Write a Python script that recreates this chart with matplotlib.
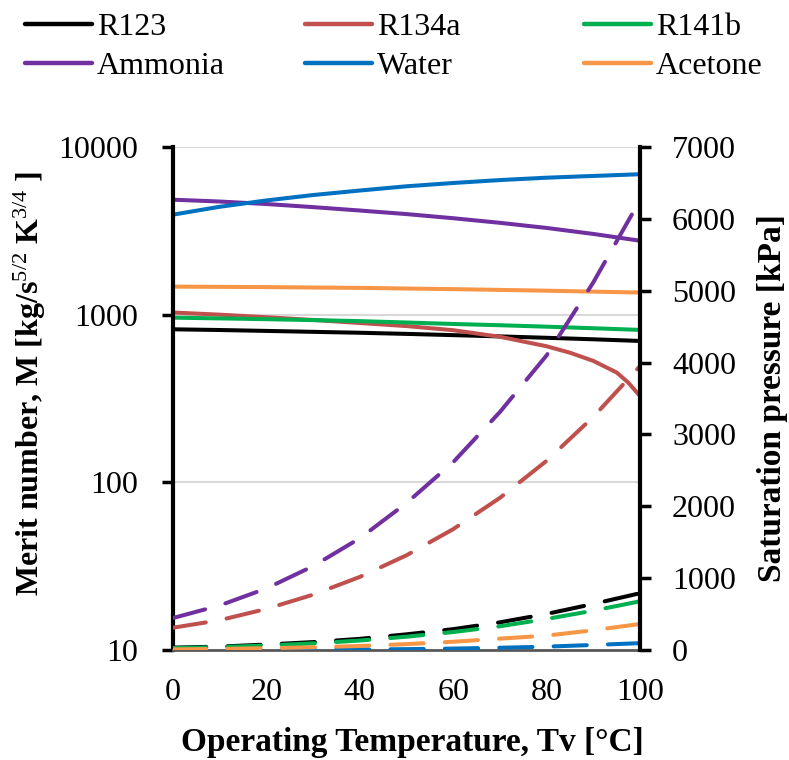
import matplotlib
matplotlib.use("Agg")
import matplotlib.pyplot as plt
from matplotlib.lines import Line2D
from matplotlib.ticker import FixedLocator, NullLocator, FuncFormatter

plt.rcParams["font.family"] = ["Liberation Serif", "DejaVu Serif"]
plt.rcParams["mathtext.fontset"] = "custom"
plt.rcParams["mathtext.rm"] = "Liberation Serif"
plt.rcParams["mathtext.default"] = "rm"

# data
temps = [0, 10, 20, 30, 40, 50, 60, 70, 80, 90, 100]
temps_r134a = [0, 10, 20, 30, 40, 50, 60, 70, 80, 85, 90, 95, 97.5, 100]

# merit number (left, log axis)
m_r123 = [818, 810, 800, 790, 780, 768, 755, 742, 728, 713, 697]
m_r134a = [1030, 1000, 965, 930, 892, 855, 808, 738, 648, 593, 530, 452, 393, 327]
m_r141b = [960, 950, 940, 928, 915, 898, 880, 865, 848, 830, 811]
m_ammonia = [4850, 4730, 4570, 4380, 4180, 3980, 3760, 3530, 3290, 3030, 2760]
m_water = [3950, 4400, 4800, 5170, 5500, 5830, 6100, 6350, 6560, 6720, 6880]
m_acetone = [1470, 1465, 1460, 1452, 1445, 1432, 1420, 1405, 1390, 1372, 1355]

# saturation pressure [kPa] (right axis)
p_r123 = [33, 47, 76, 110, 155, 218, 290, 385, 502, 641, 790]
p_r134a = [310, 415, 572, 770, 1017, 1318, 1682, 2117, 2633, 3244, 3950]
p_r141b = [27, 40, 63, 92, 132, 185, 250, 330, 432, 547, 678]
p_ammonia = [445, 620, 857, 1167, 1555, 2045, 2614, 3312, 4100, 5116, 6260]
p_water = [1, 1, 2, 4, 7, 12, 20, 31, 47, 70, 95]
p_acetone = [9, 15, 25, 38, 56, 82, 115, 158, 200, 275, 362]

labels = ["R123", "R134a", "R141b", "Ammonia", "Water", "Acetone"]
colors = ["#000000", "#C0504D", "#00B050", "#7030A0", "#0070C0", "#F79646"]

merit = [(temps, m_r123), (temps_r134a, m_r134a), (temps, m_r141b),
         (temps, m_ammonia), (temps, m_water), (temps, m_acetone)]
press = [p_r123, p_r134a, p_r141b, p_ammonia, p_water, p_acetone]

fig = plt.figure(figsize=(7.89, 7.60), dpi=100)
ax = fig.add_axes([173 / 789, 1 - 650 / 760, 467 / 789, 503 / 760])

for (t, m), c in zip(merit, colors):
    ax.plot(t, m, color=c, lw=2.9, solid_capstyle="butt", solid_joinstyle="round")

ax.set_yscale("log")
ax.set_ylim(10, 10000)
ax.set_xlim(0, 100)
ax.set_xticks([0, 20, 40, 60, 80, 100])
ax.yaxis.set_major_locator(FixedLocator([10, 100, 1000, 10000]))
ax.yaxis.set_minor_locator(NullLocator())
ax.yaxis.set_major_formatter(FuncFormatter(lambda v, p: "%d" % v))
ax.tick_params(axis="x", length=0, pad=20, labelsize=23)
ax.tick_params(axis="y", direction="out", length=8, width=2.5, pad=17, labelsize=23)
ax.grid(axis="y", which="major", color="#d9d9d9", lw=1.5)
ax.set_axisbelow(True)
ax.spines["top"].set_visible(False)
ax.spines["right"].set_visible(False)
ax.spines["left"].set_linewidth(3)
ax.spines["bottom"].set_linewidth(2)
ax.spines["bottom"].set_color("#595959")

ax2 = ax.twinx()
for p, c in zip(press, colors):
    ax2.plot(temps, p, color=c, lw=2.9, dashes=(8.25, 5.25), dash_capstyle="round")
ax2.set_ylim(0, 7000)
ax2.set_yticks(range(0, 7001, 1000))
ax2.tick_params(axis="y", direction="out", length=8, width=2.5, pad=15, labelsize=23)
for s in ["top", "left", "bottom"]:
    ax2.spines[s].set_visible(False)
ax2.spines["right"].set_linewidth(3)

# axis titles
fig.text(412 / 789, 1 - 742 / 760, "Operating Temperature, Tv [°C]",
         fontsize=24, fontweight="bold", ha="center", va="center")
fig.text(30 / 789, 1 - 383 / 760, "Merit number, M [kg/s$^{5/2}$ K$^{3/4}$ ]",
         fontsize=23, fontweight="bold", rotation=90, ha="center", va="center")
fig.text(772 / 789, 1 - 398 / 760, "Saturation pressure [kPa]",
         fontsize=24, fontweight="bold", rotation=90, ha="center", va="center")

# legend, one column at a time
handles = [Line2D([], [], color=c, lw=3.2, solid_capstyle="round") for c in colors]
col_x = [25, 305, 584]
for i in range(3):
    fig.legend([handles[i], handles[i + 3]], [labels[i], labels[i + 3]],
               loc="center left", bbox_to_anchor=(col_x[i] / 789, 1 - 47 / 760),
               frameon=False, fontsize=23, handlelength=2.1,
               handletextpad=0.15, labelspacing=0.3, borderaxespad=0.0,
               borderpad=0.0)

fig.savefig("out.png", dpi=100)
